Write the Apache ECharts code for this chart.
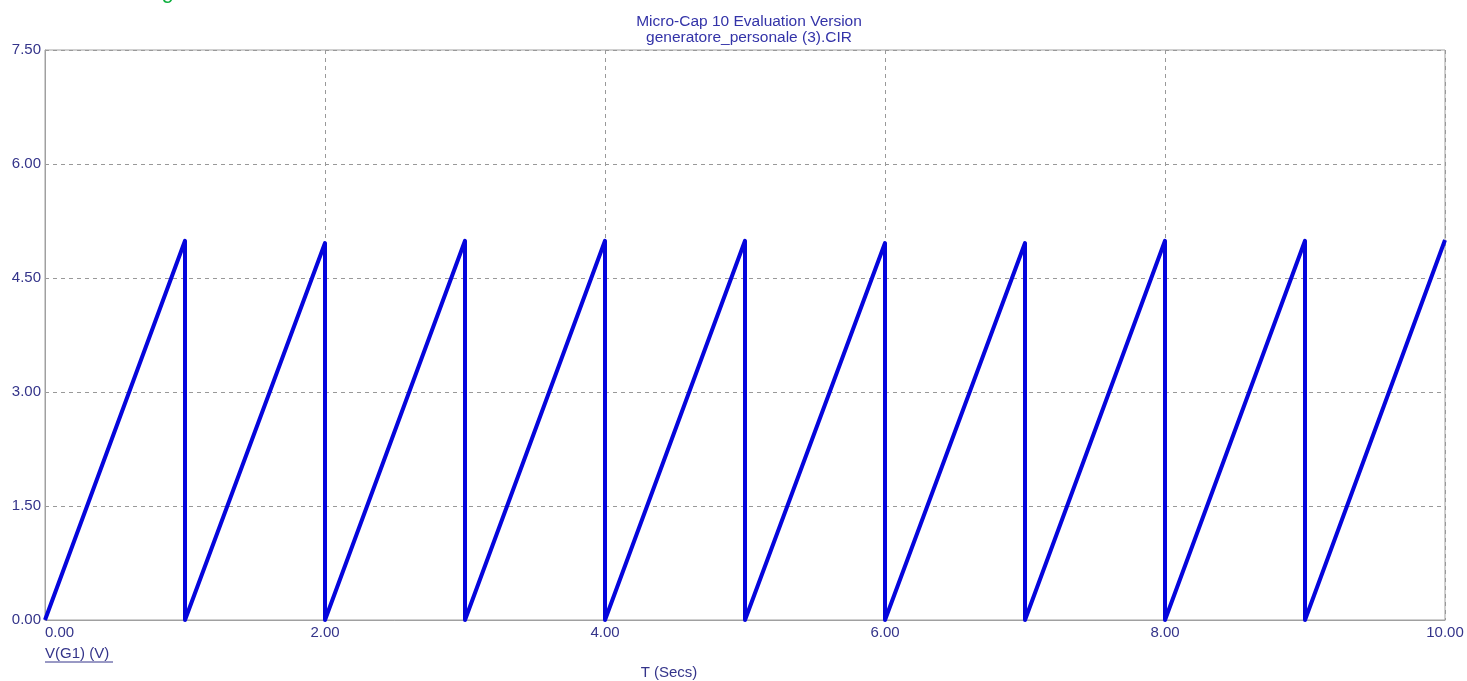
<!DOCTYPE html>
<html>
<head>
<meta charset="utf-8">
<script src="https://cdn.jsdelivr.net/npm/echarts@6/dist/echarts.min.js"></script>
<style>
html,body{margin:0;padding:0;background:#fff;}
#chart{width:1467px;height:681px;}
</style>
</head>
<body>
<div id="chart"></div>
<script>
// Data (sawtooth, period 1 s)
var timeSecs = [0, 1, 1, 2, 2, 3, 3, 4, 4, 5, 5, 6, 6, 7, 7, 8, 8, 9, 9, 10];
var voltsG1  = [0, 4.99, 0, 4.96, 0, 4.99, 0, 4.99, 0, 4.99, 0, 4.96, 0, 4.96, 0, 4.99, 0, 4.99, 0, 5.00];
var titleLines = ['Micro-Cap 10 Evaluation Version', 'generatore_personale (3).CIR'];
var seriesName = 'V(G1) (V)';
var xAxisName = 'T (Secs)';

var pts = timeSecs.map(function (t, i) { return [t, voltsG1[i]]; });
var labelColor = '#34348a';
var fontFam = '"Liberation Sans", Arial, sans-serif';

var chart = echarts.init(document.getElementById('chart'));
chart.setOption({
  animation: false,
  backgroundColor: '#ffffff',
  title: {
    text: titleLines.join('\n'),
    left: 744,
    textAlign: 'center',
    top: 9,
    textStyle: { color: '#3333a8', fontSize: 15.5, fontWeight: 'normal', fontFamily: fontFam, lineHeight: 16 }
  },
  grid: {
    left: 45, right: 22, top: 50, bottom: 61,
    show: true, borderColor: '#a0a0a0', borderWidth: 1, containLabel: false
  },
  xAxis: {
    type: 'value', min: 0, max: 10, interval: 2,
    axisLine: { show: true, lineStyle: { color: '#a0a0a0', width: 1 } },
    axisTick: { show: false },
    splitLine: { show: true, lineStyle: { color: '#999999', type: [4, 4], width: 1 } },
    axisLabel: {
      color: labelColor, fontSize: 15, fontFamily: fontFam, margin: 5,
      alignMinLabel: 'left',
      formatter: function (v) { return v.toFixed(2); }
    }
  },
  yAxis: {
    type: 'value', min: 0, max: 7.5, interval: 1.5,
    axisLine: { show: true, lineStyle: { color: '#a0a0a0', width: 1 } },
    axisTick: { show: false },
    splitLine: { show: true, lineStyle: { color: '#999999', type: [4, 4], width: 1 } },
    axisLabel: {
      color: labelColor, fontSize: 15, fontFamily: fontFam, margin: 4,
      formatter: function (v) { return v.toFixed(2); }
    }
  },
  series: [{
    name: seriesName,
    type: 'line',
    data: pts,
    showSymbol: false,
    lineStyle: { color: '#0505dc', width: 4, join: 'round' },
    clip: false
  }],
  graphic: [
    { type: 'text', left: 163, top: -19,
      style: { text: 'generato', fill: '#10b040', font: 'italic 22px ' + fontFam } },
    { type: 'text', left: 45, top: 646,
      style: { text: seriesName, fill: labelColor, font: '15px ' + fontFam } },
    { type: 'line', shape: { x1: 45, y1: 662, x2: 113, y2: 662 },
      style: { stroke: labelColor, lineWidth: 1 } },
    { type: 'text', x: 669, y: 665,
      style: { text: xAxisName, fill: labelColor, font: '15px ' + fontFam, textAlign: 'center' } }
  ]
});
</script>
</body>
</html>
